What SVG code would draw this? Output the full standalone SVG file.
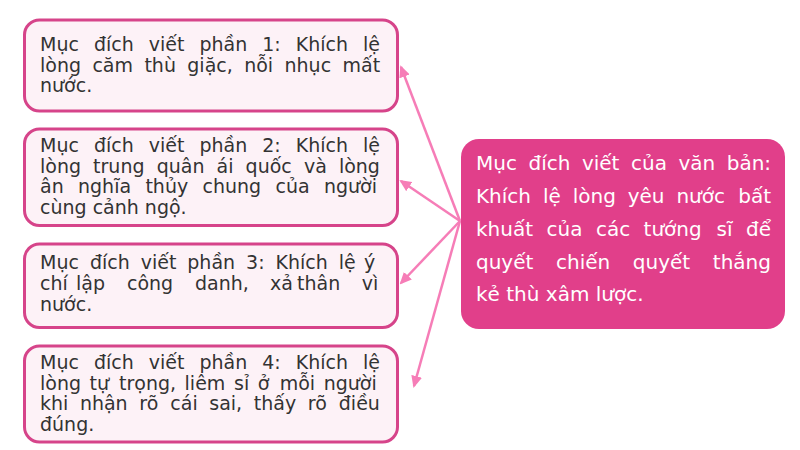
<svg xmlns="http://www.w3.org/2000/svg" width="800" height="450" viewBox="0 0 800 450">
<defs>
<style>
.box{fill:#fdf2f7;stroke:#d6448a;stroke-width:3}
.main{fill:#e13f8a}
.t{font-family:"DejaVu Sans",sans-serif;font-size:19px;fill:#333333}
.w{font-family:"DejaVu Sans",sans-serif;font-size:20px;fill:#ffffff}
.c{stroke:#f67db7;stroke-width:2.5;fill:none;marker-end:url(#ah)}
</style>
<marker id="ah" markerUnits="userSpaceOnUse" markerWidth="12" markerHeight="11" viewBox="0 0 12 11" refX="10" refY="5.5" orient="auto">
<path d="M0,0 L12,5.5 L0,11 z" fill="#f67db7"/>
</marker>
</defs>
<rect width="800" height="450" fill="#ffffff"/>
<g id="connectors">
<line class="c" x1="460" y1="221" x2="401" y2="67"/>
<line class="c" x1="460" y1="221" x2="401" y2="181"/>
<line class="c" x1="460" y1="221" x2="401" y2="283"/>
<line class="c" x1="460" y1="221" x2="414" y2="386"/>
</g>
<g id="node1">
<rect class="box" x="24.5" y="20" width="373" height="91" rx="15"/>
<text class="t" y="51"><tspan x="40">Mục</tspan><tspan x="93.9">đích</tspan><tspan x="148.7">viết</tspan><tspan x="199.4">phần</tspan><tspan x="262.2">1:</tspan><tspan x="295.7">Khích</tspan><tspan x="363">lệ</tspan></text>
<text class="t" y="71.5"><tspan x="40">lòng</tspan><tspan x="92.4">căm</tspan><tspan x="144.4">thù</tspan><tspan x="187.3">giặc,</tspan><tspan x="244.2">nỗi</tspan><tspan x="284.5">nhục</tspan><tspan x="342.5">mất</tspan></text>
<text class="t" x="40" y="92">nước.</text>
</g>
<g id="node2">
<rect class="box" x="24.5" y="129" width="373" height="96.5" rx="15"/>
<text class="t" y="152"><tspan x="40">Mục</tspan><tspan x="93.9">đích</tspan><tspan x="148.7">viết</tspan><tspan x="199.4">phần</tspan><tspan x="262.2">2:</tspan><tspan x="295.7">Khích</tspan><tspan x="363">lệ</tspan></text>
<text class="t" y="172.5"><tspan x="40">lòng</tspan><tspan x="93.1">trung</tspan><tspan x="156.7">quân</tspan><tspan x="216.6">ái</tspan><tspan x="245.6">quốc</tspan><tspan x="303.9">và</tspan><tspan x="338.9">lòng</tspan></text>
<text class="t" y="193"><tspan x="40">ân</tspan><tspan x="78">nghĩa</tspan><tspan x="145.4">thủy</tspan><tspan x="202.5">chung</tspan><tspan x="275.5">của</tspan><tspan x="323.9">người</tspan></text>
<text class="t" x="40" y="213.5">cùng cảnh ngộ.</text>
</g>
<g id="node3">
<rect class="box" x="24.5" y="244" width="373" height="83.5" rx="15"/>
<text class="t" y="269"><tspan x="40">Mục</tspan><tspan x="89.9">đích</tspan><tspan x="140.7">viết</tspan><tspan x="187.3">phần</tspan><tspan x="246.1">3:</tspan><tspan x="275.5">Khích</tspan><tspan x="338.8">lệ</tspan><tspan x="364">ý</tspan></text>
<text class="t" y="290"><tspan x="40">chí</tspan><tspan x="76">lập</tspan><tspan x="127">công</tspan><tspan x="195">danh,</tspan><tspan x="270">xả</tspan><tspan x="297">thân</tspan><tspan x="361.7">vì</tspan></text>
<text class="t" x="40" y="311">nước.</text>
</g>
<g id="node4">
<rect class="box" x="24.5" y="346" width="373" height="96" rx="15"/>
<text class="t" y="369"><tspan x="40">Mục</tspan><tspan x="93.9">đích</tspan><tspan x="148.7">viết</tspan><tspan x="199.4">phần</tspan><tspan x="262.2">4:</tspan><tspan x="295.7">Khích</tspan><tspan x="363">lệ</tspan></text>
<text class="t" y="389.5"><tspan x="40">lòng</tspan><tspan x="89.6">tự</tspan><tspan x="119">trọng,</tspan><tspan x="184.6">liêm</tspan><tspan x="234">sỉ</tspan><tspan x="257.8">ở</tspan><tspan x="279.7">mỗi</tspan><tspan x="323.7">người</tspan></text>
<text class="t" y="410"><tspan x="40">khi</tspan><tspan x="79.9">nhận</tspan><tspan x="139.3">rõ</tspan><tspan x="170.3">cái</tspan><tspan x="209.3">sai,</tspan><tspan x="253.8">thấy</tspan><tspan x="307.8">rõ</tspan><tspan x="338.8">điều</tspan></text>
<text class="t" x="40" y="430.5">đúng.</text>
</g>
<g id="main">
<rect class="main" x="461" y="139" width="324" height="190" rx="18"/>
<text class="w" y="170"><tspan x="476">Mục</tspan><tspan x="528.5">đích</tspan><tspan x="581.9">viết</tspan><tspan x="631">của</tspan><tspan x="678.4">văn</tspan><tspan x="726.7">bản:</tspan></text>
<text class="w" y="203"><tspan x="476">Khích</tspan><tspan x="542.9">lệ</tspan><tspan x="572.7">lòng</tspan><tspan x="627.7">yêu</tspan><tspan x="676.4">nước</tspan><tspan x="738.2">bất</tspan></text>
<text class="w" y="236"><tspan x="476">khuất</tspan><tspan x="546.5">của</tspan><tspan x="595.9">các</tspan><tspan x="643.6">tướng</tspan><tspan x="716.6">sĩ</tspan><tspan x="746">để</tspan></text>
<text class="w" y="268.5"><tspan x="476">quyết</tspan><tspan x="556">chiến</tspan><tspan x="632.8">quyết</tspan><tspan x="712.8">thắng</tspan></text>
<text class="w" x="476" y="301">kẻ thù xâm lược.</text>
</g>
</svg>
